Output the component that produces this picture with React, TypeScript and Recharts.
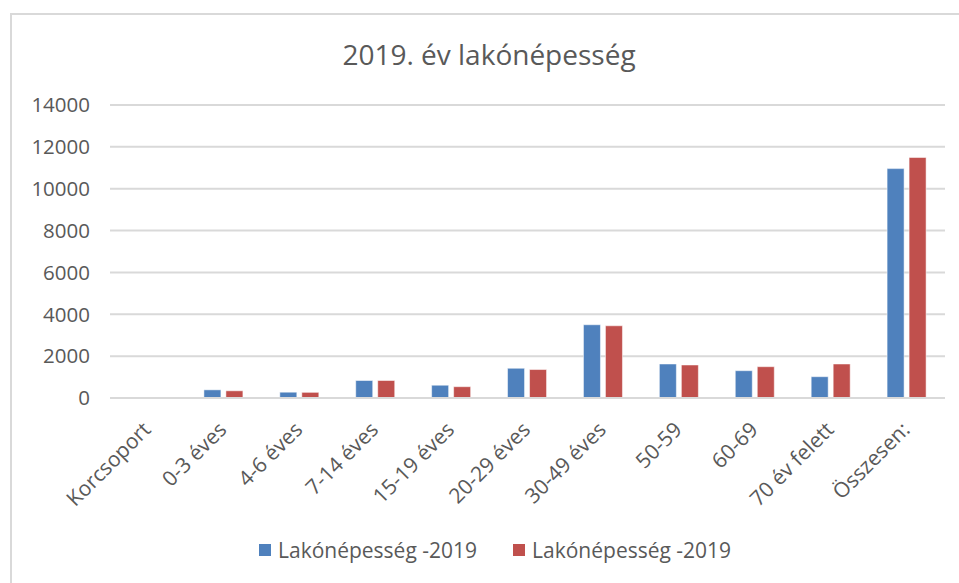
import React from 'react';
import { BarChart, Bar, XAxis, YAxis, CartesianGrid, Legend } from 'recharts';

const categories = ['Korcsoport', '0-3 éves', '4-6 éves', '7-14 éves', '15-19 éves', '20-29 éves', '30-49 éves', '50-59', '60-69', '70 év felett', 'Összesen:'];
const seriesA = [null, 390, 277, 836, 610, 1420, 3500, 1625, 1305, 1018, 10960];
const seriesB = [null, 344, 270, 836, 540, 1360, 3450, 1577, 1496, 1625, 11490];
const yTicks = [0, 2000, 4000, 6000, 8000, 10000, 12000, 14000];
const seriesNames = ['Lakónépesség -2019', 'Lakónépesség -2019'];
const colors = ['#4f81bd', '#c0504d'];

const data = categories.map((c, i) => ({ name: c, a: seriesA[i], b: seriesB[i] }));

const FONT = '"Open Sans", sans-serif';
const TEXT = '#595959';

const XTick = (props: any) => {
  const { x, y, payload } = props;
  const px = x + 4;
  const py = y + 25;
  return (
    <text x={px} y={py} transform={`rotate(-45 ${px} ${py})`} textAnchor="end" fill={TEXT} fontSize={21} fontFamily={FONT}>
      {payload.value}
    </text>
  );
};

const LegendContent = () => (
  <div style={{ display: 'flex', alignItems: 'center', height: 30, fontFamily: FONT, fontSize: 21, color: TEXT, whiteSpace: 'nowrap' }}>
    {seriesNames.map((n, i) => (
      <div key={i} style={{ display: 'flex', alignItems: 'center', marginRight: i === 0 ? 36 : 0 }}>
        <span style={{ display: 'inline-block', width: 12, height: 12, background: colors[i], marginRight: 7 }} />
        <span>{n}</span>
      </div>
    ))}
  </div>
);

export default function App() {
  return (
    <div style={{ position: 'fixed', left: 0, top: 0, width: 959, height: 583, overflow: 'hidden', background: '#fff' }}>
      <div style={{ position: 'absolute', left: 10, top: 13, width: 960, height: 580, borderLeft: '2px solid #d9d9d9', borderTop: '2px solid #d9d9d9' }} />
      <div style={{ position: 'absolute', left: 19, top: 40, width: 940, textAlign: 'center', fontFamily: FONT, fontSize: 28, lineHeight: '28px', color: TEXT }}>
        2019. év lakónépesség
      </div>
      <div style={{ position: 'absolute', left: 0, top: 0 }}>
        <BarChart width={959} height={583} data={data} margin={{ top: 105, right: 14, left: 0, bottom: 18 }} barSize={17} barGap={5}>
          <CartesianGrid vertical={false} stroke="#d9d9d9" strokeWidth={2} />
          <XAxis dataKey="name" height={137} interval={0} tick={<XTick />} tickLine={false} axisLine={{ stroke: '#d9d9d9', strokeWidth: 2 }} />
          <YAxis width={110} domain={[0, 14000]} ticks={yTicks} tickLine={false} axisLine={false} tickSize={0} tickMargin={20} tick={{ fill: TEXT, fontSize: 20.5, fontFamily: FONT }} />
          <Legend verticalAlign="bottom" content={<LegendContent />} wrapperStyle={{ left: 259, width: 520, height: 30, bottom: 18 }} />
          <Bar dataKey="a" name={seriesNames[0]} fill={colors[0]} stroke="#ffffff" strokeOpacity={0.5} isAnimationActive={false} />
          <Bar dataKey="b" name={seriesNames[1]} fill={colors[1]} stroke="#ffffff" strokeOpacity={0.5} isAnimationActive={false} />
        </BarChart>
      </div>
    </div>
  );
}
